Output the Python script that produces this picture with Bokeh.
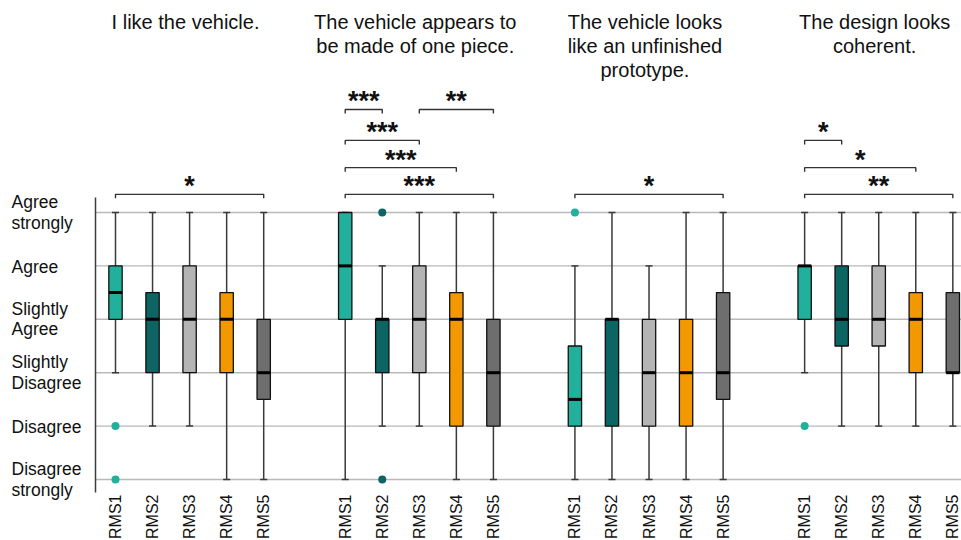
from bokeh.plotting import figure
from bokeh.models import Range1d, ColumnDataSource
from bokeh.core.properties import value
from bokeh.embed import file_html
from bokeh.resources import INLINE
import math

# ---- data -------------------------------------------------------------
statements = [
    "I like the vehicle.",
    "The vehicle appears to\nbe made of one piece.",
    "The vehicle looks\nlike an unfinished\nprototype.",
    "The design looks\ncoherent.",
]
conditions = ["RMS1", "RMS2", "RMS3", "RMS4", "RMS5"]
condition_colors = ["#21b09b", "#0c6463", "#b4b4b4", "#f39800", "#6e6e6e"]

likert_levels = [1, 2, 3, 4, 5, 6]
likert_labels = ["Disagree\nstrongly", "Disagree", "Slightly\nDisagree",
                 "Slightly\nAgree", "Agree", "Agree\nstrongly"]

# one row per statement, one entry per condition (RMS1..RMS5)
q1 = [[4, 3, 3, 3, 2.5],
      [4, 3, 3, 2, 2],
      [2, 2, 2, 2, 2.5],
      [4, 3.5, 3.5, 3, 3]]
median = [[4.5, 4, 4, 4, 3],
          [5, 4, 4, 4, 3],
          [2.5, 4, 3, 3, 3],
          [5, 4, 4, 4, 3]]
q3 = [[5, 4.5, 5, 4.5, 4],
      [6, 4, 5, 4.5, 4],
      [3.5, 4, 4, 4, 4.5],
      [5, 5, 5, 4.5, 4.5]]
whisker_low = [[3, 2, 2, 1, 1],
               [1, 2, 2, 1, 1],
               [1, 1, 1, 1, 1],
               [3, 2, 2, 2, 2]]
whisker_high = [[6, 6, 6, 6, 6],
                [6, 5, 6, 6, 6],
                [5, 6, 5, 6, 6],
                [6, 6, 6, 6, 6]]
outliers = [[[2, 1], [], [], [], []],
            [[], [6, 1], [], [], []],
            [[6], [], [], [], []],
            [[2], [], [], [], []]]

# pairwise significance: statement, first condition, second condition, stars, tier
sig_statement = [0, 1, 1, 1, 1, 1, 2, 3, 3, 3]
sig_first = [0, 0, 2, 0, 0, 0, 0, 0, 0, 0]
sig_second = [4, 1, 4, 2, 3, 4, 4, 1, 3, 4]
sig_stars = ["*", "***", "**", "***", "***", "***", "*", "*", "*", "**"]
sig_tier = [0, 3, 3, 2, 1, 0, 0, 2, 1, 0]

# ---- layout -------------------------------------------------------------
GROUP_STEP = 6.2          # distance between statement groups (in box slots)
PX_X = 37.05              # pixels per x unit
PX_Y = 53.4               # pixels per Likert step
BOX_W = 0.36
CAP_W = 0.19
tier_y = [6.34, 6.84, 7.35, 7.93]
FONT = "Liberation Sans"


def xpos(g, i):
    return g * GROUP_STEP + i


def dy(px):
    """Convert a vertical pixel distance into Likert units."""
    return px / PX_Y


def y_at_px(px):
    """Likert value at a given pixel row of the canvas."""
    return 1 + (479 - px) / PX_Y


x_start = -115 / PX_X
x_end = (961 - 115) / PX_X
y_start = y_at_px(540)
y_end = y_at_px(0)

p = figure(width=961, height=540, x_range=Range1d(x_start, x_end),
           y_range=Range1d(y_start, y_end), x_axis_type=None, y_axis_type=None,
           output_backend="svg", toolbar_location=None, min_border=0)
p.grid.visible = False
p.outline_line_color = None
p.background_fill_color = "white"
p.border_fill_color = "white"

axis_x = -20 / PX_X

# horizontal reference lines at every Likert level
p.segment(x0=[axis_x] * len(likert_levels), x1=[x_end] * len(likert_levels),
          y0=likert_levels, y1=likert_levels, line_color="#b9b9b9", line_width=1.4)

# vertical value axis
p.segment(x0=[axis_x], x1=[axis_x], y0=[min(likert_levels) - dy(13)],
          y1=[max(likert_levels) + dy(15)], line_color="#3c3c3c", line_width=1.5)

# box plot geometry
xs, lo, hi, b, m, t, cols = [], [], [], [], [], [], []
ox, oy, oc = [], [], []
for g in range(len(statements)):
    for i in range(len(conditions)):
        x = xpos(g, i)
        xs.append(x)
        lo.append(whisker_low[g][i])
        hi.append(whisker_high[g][i])
        b.append(q1[g][i])
        m.append(median[g][i])
        t.append(q3[g][i])
        cols.append(condition_colors[i])
        for v in outliers[g][i]:
            ox.append(x)
            oy.append(v)
            oc.append(condition_colors[i])

src = ColumnDataSource(dict(x=xs, lo=lo, hi=hi, q1=b, med=m, q3=t, color=cols,
                            xl=[x - BOX_W / 2 for x in xs], xr=[x + BOX_W / 2 for x in xs],
                            cl=[x - CAP_W / 2 for x in xs], cr=[x + CAP_W / 2 for x in xs]))

whisk = dict(line_color="#3a3a3a", line_width=1.5)
p.segment(x0="x", x1="x", y0="q3", y1="hi", source=src, **whisk)
p.segment(x0="x", x1="x", y0="q1", y1="lo", source=src, **whisk)
p.segment(x0="cl", x1="cr", y0="hi", y1="hi", source=src, **whisk)
p.segment(x0="cl", x1="cr", y0="lo", y1="lo", source=src, **whisk)

p.vbar(x="x", width=BOX_W, bottom="q1", top="q3", fill_color="color",
       line_color="#111111", line_width=1.3, source=src)
p.segment(x0="xl", x1="xr", y0="med", y1="med", line_color="black",
          line_width=3, source=src)

p.scatter(ox, oy, size=8, fill_color=oc, line_color=None)

# significance brackets
bx, by, sx, sy = [], [], [], []
for s, a, c, tier in zip(sig_statement, sig_first, sig_second, sig_tier):
    x0, x1 = xpos(s, a), xpos(s, c)
    y = tier_y[tier]
    bx.append([x0, x0, x1, x1])
    by.append([y - dy(4), y, y, y - dy(4)])
    sx.append((x0 + x1) / 2)
    sy.append(y + dy(8))
p.multi_line(bx, by, line_color="#333333", line_width=1.4)
p.text(sx, sy, text=sig_stars, text_font=value(FONT), text_font_size="27px",
       text_font_style="bold", text_align="center", text_baseline="alphabetic",
       text_color="#111111")

# statement titles above each group
tx, ty, tt = [], [], []
for g, s in enumerate(statements):
    for k, line in enumerate(s.split("\n")):
        tx.append(xpos(g, 2) - 0.11)
        ty.append(y_at_px(21.5 + 24 * k))
        tt.append(line)
p.text(tx, ty, text=tt, text_font=value(FONT), text_font_size="20px",
       text_align="center", text_baseline="alphabetic", text_color="#111111")

# Likert level labels on the left
lx, ly, lt = [], [], []
label_x = (11 - 115) / PX_X
for lev, lab in zip(likert_levels, likert_labels):
    lines = lab.split("\n")
    if len(lines) == 1:
        lx.append(label_x)
        ly.append(lev - dy(1))
        lt.append(lines[0])
    else:
        for k, line in enumerate(lines):
            lx.append(label_x)
            ly.append(lev - dy(-10.5 + 20.5 * k))
            lt.append(line)
p.text(lx, ly, text=lt, text_font=value(FONT), text_font_size="17.5px",
       text_align="left", text_baseline="alphabetic", text_color="#111111")

# condition names under each box, rotated
cx = [xpos(g, i) for g in range(len(statements)) for i in range(len(conditions))]
ct = [c for _ in statements for c in conditions]
p.text(cx, [y_at_px(494)] * len(cx), text=ct, angle=math.pi / 2,
       text_font=value(FONT), text_font_size="16px", text_align="right",
       text_baseline="middle", text_color="#111111")

open("out.html", "w").write(file_html(p, INLINE))
